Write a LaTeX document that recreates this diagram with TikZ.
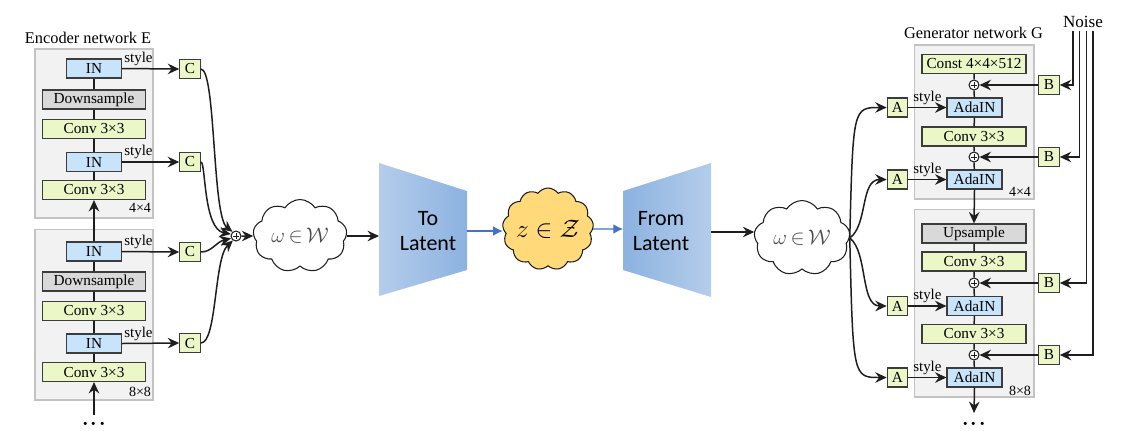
\documentclass[tikz,border=0pt]{standalone}
\usepackage{fontspec}
\setmainfont{Liberation Serif}
\newfontfamily\carlito{Carlito}
\usetikzlibrary{arrows.meta,shapes.symbols}
\definecolor{gr}{RGB}{236,247,200}
\definecolor{bl}{RGB}{199,228,250}
\definecolor{gy}{RGB}{217,217,217}
\definecolor{pf}{RGB}{242,242,242}
\definecolor{pg}{RGB}{195,195,195}
\definecolor{bd}{RGB}{60,60,60}
\definecolor{ln}{RGB}{30,30,30}
\definecolor{tlight}{RGB}{180,205,235}
\definecolor{tdark}{RGB}{140,178,224}
\definecolor{oblue}{RGB}{68,114,196}
\definecolor{zy}{RGB}{255,217,122}
\definecolor{wtxt}{RGB}{75,75,75}
\tikzset{
  bx/.style={draw=bd, line width=0.65pt, minimum height=0.38cm, inner sep=0pt, font=\fontsize{8.7}{9}\selectfont},
  convb/.style={bx, fill=gr, minimum width=2.05cm},
  grayb/.style={bx, fill=gy, minimum width=2.05cm},
  inb/.style={bx, fill=bl, minimum width=1.09cm},
  smallb/.style={bx, fill=gr, minimum width=0.41cm},
  panel/.style={draw=pg, fill=pf, line width=0.6pt, inner sep=0pt},
  arr/.style={draw=ln, line width=0.85pt, -{Stealth[length=6.5pt,width=6pt,inset=2.2pt]}},
  plainln/.style={draw=ln, line width=0.85pt},
  barr/.style={draw=oblue, line width=0.7pt, -{Latex[length=5.5pt,width=5.5pt]}},
  plusn/.style={circle, draw=ln, line width=0.6pt, fill=white, minimum size=0.2cm, inner sep=0pt,
    path picture={\draw[ln, line width=0.45pt] ([xshift=-1.7pt]path picture bounding box.center) -- ([xshift=1.7pt]path picture bounding box.center)
      ([yshift=-1.7pt]path picture bounding box.center) -- ([yshift=1.7pt]path picture bounding box.center);}},
  stylelab/.style={above, inner sep=1.2pt, font=\fontsize{8.5}{8.5}\selectfont},
  sizelab/.style={font=\fontsize{8}{8}\selectfont, inner sep=0pt},
  titlelab/.style={font=\fontsize{9.3}{10}\selectfont, inner sep=0pt},
  dotsl/.style={font=\fontsize{19}{19}\selectfont, inner sep=0pt},
  wcloud/.style={cloud, cloud puffs=9, cloud puff arc=115, cloud ignores aspect, draw=ln, line width=0.6pt, fill=white,
    minimum width=1.88cm, minimum height=1.46cm, inner sep=0pt, text=wtxt, font=\fontsize{13}{13}\selectfont},
  latlab/.style={align=center, font=\carlito\fontsize{12.5}{14}\selectfont, inner sep=0pt},
}
\begin{document}
\begin{tikzpicture}[x=0.02cm, y=-0.02cm]
\useasboundingbox (0,0) rectangle (1121,441);

% ---------------- Encoder ----------------
\node[titlelab] (etitle) at (88,38) {Encoder network E};
\node[panel, minimum width=2.36cm, minimum height=3.38cm] (e1) at (94,133.5) {};
\node[panel, minimum width=2.36cm, minimum height=3.42cm] (e2) at (94,314.5) {};

\node[inb] (in1) at (94,68.5) {IN};
\node[grayb] (ds1) at (94,99.5) {Downsample};
\node[convb] (cv1) at (94,129) {Conv 3×3};
\node[inb] (in2) at (94,162) {IN};
\node[convb] (cv2) at (94,190) {Conv 3×3};
\node[sizelab] (e1s) at (140,208) {4×4};

\node[inb] (in3) at (94,251.5) {IN};
\node[grayb] (ds2) at (94,281.5) {Downsample};
\node[convb] (cv3) at (94,311) {Conv 3×3};
\node[inb] (in4) at (94,343.5) {IN};
\node[convb] (cv4) at (94,372) {Conv 3×3};
\node[sizelab] (e2s) at (140,392) {8×8};

\draw[plainln] (in1) -- (ds1) -- (cv1) -- (in2) -- (cv2);
\draw[plainln] (in3) -- (ds2) -- (cv3) -- (in4) -- (cv4);
\draw[arr] (in3.north) -- (cv2.south);
\coordinate (ebot) at (94,415);
\draw[arr] (ebot) -- (cv4.south);
\node[dotsl] (edots) at (94,425) {${\cdot}{\cdot}{\cdot}$};

\node[smallb] (c1) at (190,69) {C};
\node[smallb] (c2) at (190,162) {C};
\node[smallb] (c3) at (190,252) {C};
\node[smallb] (c4) at (190,343) {C};
\draw[arr] (in1.east) -- node[stylelab, pos=0.29] {style} (c1.west);
\draw[arr] (in2.east) -- node[stylelab, pos=0.29] {style} (c2.west);
\draw[arr] (in3.east) -- node[stylelab, pos=0.29] {style} (c3.west);
\draw[arr] (in4.east) -- node[stylelab, pos=0.29] {style} (c4.west);

\node[plusn] (pe) at (236,236) {};
\draw[arr] (c1.east) .. controls (216,69) and (212,216) .. (pe.130);
\draw[arr] (c2.east) .. controls (206,162) and (203,229) .. (pe.160);
\draw[arr] (c3.east) .. controls (212,252) and (216,242) .. (pe.205);
\draw[arr] (c4.east) .. controls (217,343) and (214,258) .. (pe.235);

% ---------------- Middle ----------------
\node[wcloud] (w1) at (300,236) {$\omega\,{\in}\,\mathcal{W}$};
\draw[arr] (pe.east) -- (w1.west);

\shade[left color=tlight, right color=tdark] (379,163) -- (467,191) -- (467,270) -- (379,296) -- cycle;
\coordinate (tlW) at (379,236);
\coordinate (tlE) at (467,231);
\node[latlab] (tlt) at (428,231) {To\\Latent};
\draw[arr] (w1.east) -- (w1.east -| tlW);

\node[cloud, cloud puffs=13, cloud puff arc=110, cloud ignores aspect, draw=ln, line width=0.6pt, fill=zy,
  minimum width=1.8cm, minimum height=1.64cm, inner sep=0pt, font=\fontsize{15}{15}\selectfont] (z) at (548,229) {$z\in\mathcal{Z}$};
\draw[barr] (tlE) -- (tlE -| z.west);

\shade[left color=tdark, right color=tlight] (623,191) -- (711,163) -- (711,297) -- (623,270) -- cycle;
\coordinate (flW) at (623,229);
\coordinate (flE) at (711,232);
\node[latlab] (flt) at (661,231) {From\\Latent};
\draw[barr] (z.east) -- (flW);

\node[wcloud, minimum width=1.92cm, minimum height=1.5cm] (w2) at (802,238) {$\omega\,{\in}\,\mathcal{W}$};
\draw[arr] (flE) -- (flE -| w2.west);

% ---------------- Generator ----------------
\node[titlelab] (gtitle) at (973.5,33) {Generator network G};
\node[titlelab, font=\fontsize{9.7}{10}\selectfont] (noise) at (1083,21.5) {Noise};
\node[panel, minimum width=2.4cm, minimum height=3.08cm] (g1) at (974,122) {};
\node[panel, minimum width=2.4cm, minimum height=3.76cm] (g2) at (974,303) {};

\node[convb, minimum width=2.08cm] (const) at (974,64) {Const 4×4×512};
\node[plusn] (p1) at (974,85) {};
\node[inb, minimum width=1.1cm] (ada1) at (974.5,107.5) {AdaIN};
\node[convb, minimum width=2.08cm] (gc1) at (974,136.5) {Conv 3×3};
\node[plusn] (p2) at (974,157) {};
\node[inb, minimum width=1.1cm] (ada2) at (974.5,179.5) {AdaIN};
\node[sizelab] (g1s) at (1020,192) {4×4};

\node[grayb, minimum width=2.08cm] (ups) at (974,233.5) {Upsample};
\node[convb, minimum width=2.08cm] (gc2) at (974,261.5) {Conv 3×3};
\node[plusn] (p3) at (974,283) {};
\node[inb, minimum width=1.1cm] (ada3) at (974.5,306) {AdaIN};
\node[convb, minimum width=2.08cm] (gc3) at (974,334) {Conv 3×3};
\node[plusn] (p4) at (974,355) {};
\node[inb, minimum width=1.1cm] (ada4) at (974.5,377.5) {AdaIN};
\node[sizelab] (g2s) at (1020,391) {8×8};

\draw[plainln] (const) -- (p1) -- (ada1) -- (gc1) -- (p2) -- (ada2);
\draw[arr] (ada2.south) -- (ups.north);
\draw[plainln] (ups) -- (gc2) -- (p3) -- (ada3) -- (gc3) -- (p4) -- (ada4);
\coordinate (gbot) at (974,413);
\draw[arr] (ada4.south) -- (gbot);
\node[dotsl] (gdots) at (974,425) {${\cdot}{\cdot}{\cdot}$};

\node[smallb] (b1) at (1049,85) {B};
\node[smallb] (b2) at (1049,157) {B};
\node[smallb] (b3) at (1049,283) {B};
\node[smallb] (b4) at (1049,355) {B};
\draw[arr] (b1.west) -- (p1.east);
\draw[arr] (b2.west) -- (p2.east);
\draw[arr] (b3.west) -- (p3.east);
\draw[arr] (b4.west) -- (p4.east);

\coordinate (n1) at (1073,31);
\coordinate (n2) at (1079.5,31);
\coordinate (n3) at (1086.5,31);
\coordinate (n4) at (1093,31);
\draw[arr] (n1) |- (b1.east);
\draw[arr] (n2) |- (b2.east);
\draw[arr] (n3) |- (b3.east);
\draw[arr] (n4) |- (b4.east);

\node[smallb] (a1) at (897.5,107.5) {A};
\node[smallb] (a2) at (897.5,179.5) {A};
\node[smallb] (a3) at (897.5,306) {A};
\node[smallb] (a4) at (897.5,377.5) {A};
\draw[arr] (a1.east) -- node[stylelab, pos=0.5] {style} (ada1.west);
\draw[arr] (a2.east) -- node[stylelab, pos=0.5] {style} (ada2.west);
\draw[arr] (a3.east) -- node[stylelab, pos=0.5] {style} (ada3.west);
\draw[arr] (a4.east) -- node[stylelab, pos=0.5] {style} (ada4.west);

\draw[arr] (w2.east) .. controls (853,107.5) .. (a1.west);
\draw[arr] (w2.east) .. controls (868,225) and (860,179.5) .. (a2.west);
\draw[arr] (w2.east) .. controls (868,252) and (860,306) .. (a3.west);
\draw[arr] (w2.east) .. controls (853,377.5) .. (a4.west);
\end{tikzpicture}
\end{document}
